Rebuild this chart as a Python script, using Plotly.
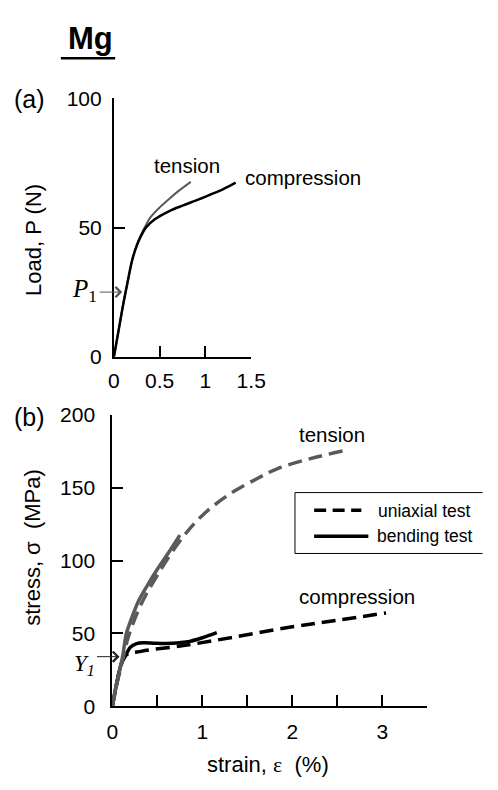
import plotly.graph_objects as go

# ---------------- data (a): load vs strain ----------------
a_ten_x = [0, 0.05, 0.1, 0.15, 0.2, 0.25, 0.3, 0.35, 0.4, 0.5, 0.6, 0.7, 0.84]
a_ten_y = [0, 10, 20, 29, 37.5, 43.5, 47.5, 51, 54, 57.8, 61, 64, 67.7]
a_com_x = [0, 0.05, 0.1, 0.15, 0.2, 0.25, 0.3, 0.35, 0.45, 0.6, 0.75, 0.9, 1.05, 1.2, 1.33]
a_com_y = [0, 10, 20, 29, 37.5, 43, 47, 50, 53.3, 56.3, 58.5, 60.5, 62.7, 65, 67.4]
a_xticks = [0, 0.5, 1, 1.5]
a_xticktext = ["0", "0.5", "1", "1.5"]
a_yticks = [0, 50, 100]
P1 = 25

# ---------------- data (b): stress vs strain ----------------
b_ut_x = [0, 0.05, 0.12, 0.18, 0.32, 0.53, 0.77, 1.0, 1.3, 1.6, 1.83, 2.2, 2.58]
b_ut_y = [0, 15, 33, 48, 70, 93, 115, 131, 145.5, 156, 163, 170, 175.5]
b_bt_x = [0, 0.05, 0.114, 0.156, 0.2, 0.29, 0.4, 0.5, 0.62, 0.75]
b_bt_y = [0, 16, 34, 50, 58, 72, 84, 94, 105, 117.5]
b_uc_x = [0, 0.05, 0.1, 0.15, 0.33, 0.79, 1.34, 2.0, 2.5, 3.04]
b_uc_y = [0, 16, 29, 35, 37.8, 41.6, 47.3, 54.5, 59, 64]
b_bc_x = [0, 0.05, 0.1, 0.15, 0.2, 0.27, 0.35, 0.47, 0.6, 0.75, 0.86, 1.0, 1.16]
b_bc_y = [0, 16, 29, 35, 40.5, 43, 43.6, 43.2, 43, 43.6, 44.5, 47, 50.5]
b_xticks = [0, 1, 2, 3]
b_xminor = 0.5
b_yticks = [0, 50, 100, 150, 200]
Y1 = 34

W, H = 498, 790
FONT = "Arial, 'Liberation Sans', Helvetica, sans-serif"
SERIF = "'Times New Roman', 'Liberation Serif', 'DejaVu Serif', serif"
GRAY = "#5a5a5a"


def px(x):
    return x / W


def py(y):
    return 1 - y / H


fig = go.Figure()

# (a)
fig.add_trace(go.Scatter(x=a_ten_x, y=a_ten_y, mode="lines", xaxis="x", yaxis="y",
                         line=dict(color=GRAY, width=2, shape="spline"), showlegend=False))
fig.add_trace(go.Scatter(x=a_com_x, y=a_com_y, mode="lines", xaxis="x", yaxis="y",
                         line=dict(color="black", width=2.5, shape="spline"), showlegend=False))
# (b)
fig.add_trace(go.Scatter(x=b_uc_x, y=b_uc_y, mode="lines", xaxis="x2", yaxis="y2",
                         line=dict(color="black", width=3.5, dash="14px,7px", shape="spline"),
                         showlegend=False))
fig.add_trace(go.Scatter(x=b_bc_x, y=b_bc_y, mode="lines", xaxis="x2", yaxis="y2",
                         line=dict(color="black", width=3.5, shape="spline"), showlegend=False))
fig.add_trace(go.Scatter(x=b_ut_x, y=b_ut_y, mode="lines", xaxis="x2", yaxis="y2",
                         line=dict(color=GRAY, width=3.5, dash="14px,7px", shape="spline"),
                         showlegend=False))
fig.add_trace(go.Scatter(x=b_bt_x, y=b_bt_y, mode="lines", xaxis="x2", yaxis="y2",
                         line=dict(color=GRAY, width=3.5, shape="spline"), showlegend=False))

axis_common = dict(showline=True, linecolor="black", linewidth=2, ticks="inside",
                   ticklen=11, tickwidth=2, tickcolor="black", showgrid=False,
                   zeroline=False, tickfont=dict(family=FONT, size=21, color="black"),
                   fixedrange=True)

fig.update_layout(
    width=W, height=H,
    margin=dict(l=0, r=0, t=0, b=0),
    paper_bgcolor="white", plot_bgcolor="white",
    font=dict(family=FONT, size=20, color="black"),
    xaxis=dict(domain=[px(112.7), px(256)], range=[0, 1.5], anchor="y",
               tickvals=a_xticks, ticktext=a_xticktext, ticklabelstandoff=4, **axis_common),
    yaxis=dict(domain=[py(355), py(89)], range=[0, 100], anchor="x",
               tickvals=a_yticks, ticklabelstandoff=6, **axis_common),
    xaxis2=dict(domain=[px(111), px(440)], range=[0, 3.5], anchor="y2",
                tickvals=b_xticks, ticklabelstandoff=6,
                minor=dict(dtick=b_xminor, tick0=0, ticks="inside", ticklen=11, tickwidth=2,
                           tickcolor="black", showgrid=False),
                **axis_common),
    yaxis2=dict(domain=[py(715), py(415)], range=[0, 200], anchor="x2",
                tickvals=b_yticks, ticklabelstandoff=11, **axis_common),
    showlegend=False,
)

ann = []


def txt(text, x, y, size=20, angle=0, family=FONT, xanchor="center", yanchor="middle"):
    ann.append(dict(text=text, x=px(x), y=py(y), xref="paper", yref="paper",
                    showarrow=False, textangle=angle, xanchor=xanchor, yanchor=yanchor,
                    font=dict(family=family, size=size, color="black")))


txt("<b>Mg</b>", 88.5, 27, size=31)
txt("(a)", 25, 90, size=25)
txt("(b)", 25, 417, size=25)
txt("Load, P (N)", 28, 235, size=22, angle=-90)
txt("stress, σ  (MPa)", 28, 551, size=22, angle=-90)
txt("strain, <span style=\"font-family:Liberation Serif, Times New Roman, serif\">ε</span>  (%)",
    274, 775, size=22)
txt("tension", 188.7, 158.5, size=20.5)
txt("compression", 310, 170.5, size=20.5)
txt("tension", 340, 435, size=20.5)
txt("compression", 366.7, 601.7, size=20.5)
txt("uniaxial test", 386, 513.5, size=17.5, xanchor="left")
txt("bending test", 385, 539.5, size=17.5, xanchor="left")
txt("<i>P</i><sub>1</sub>", 97, 287, size=25, family=SERIF, xanchor="right")
txt("<i>Y</i><sub><i>1</i></sub>", 95, 673, size=23, family=SERIF, xanchor="right")

# arrows pointing at P1 and Y1
ann.append(dict(x=0.09, y=P1, xref="x", yref="y", ax=-24, ay=0, text="",
                showarrow=True, arrowhead=4, arrowsize=2, arrowwidth=1, arrowcolor="#555",
                standoff=0, startstandoff=0))
ann.append(dict(x=0.08, y=Y1, xref="x2", yref="y2", ax=-24, ay=0, text="",
                showarrow=True, arrowhead=4, arrowsize=2, arrowwidth=1, arrowcolor="#222",
                standoff=0, startstandoff=0))
fig.update_layout(annotations=ann)

# title underline and legend frame (open at the right edge of the page)
legend_frame = (f"M0.999,{py(495)} L{px(301.7)},{py(495)} "
                f"L{px(301.7)},{py(557.7)} L0.999,{py(557.7)}")
shapes = [
    dict(type="line", xref="paper", yref="paper", x0=px(57.3), x1=px(114), y0=py(47.7), y1=py(47.7),
         line=dict(color="black", width=2.5)),
    dict(type="path", xref="paper", yref="paper", path=legend_frame,
         line=dict(color="black", width=1)),
    dict(type="line", xref="paper", yref="paper", x0=px(321.7), x1=px(371), y0=py(513.3), y1=py(513.3),
         line=dict(color="black", width=3.5, dash="12px,6.5px")),
    dict(type="line", xref="paper", yref="paper", x0=px(321.7), x1=px(378.3), y0=py(540), y1=py(540),
         line=dict(color="black", width=3.5)),
]
fig.update_layout(shapes=shapes)

fig.write_html(
    "out.html", config={"displayModeBar": False},
    post_script=("document.body.style.margin='0px';document.body.style.overflow='hidden';"))
